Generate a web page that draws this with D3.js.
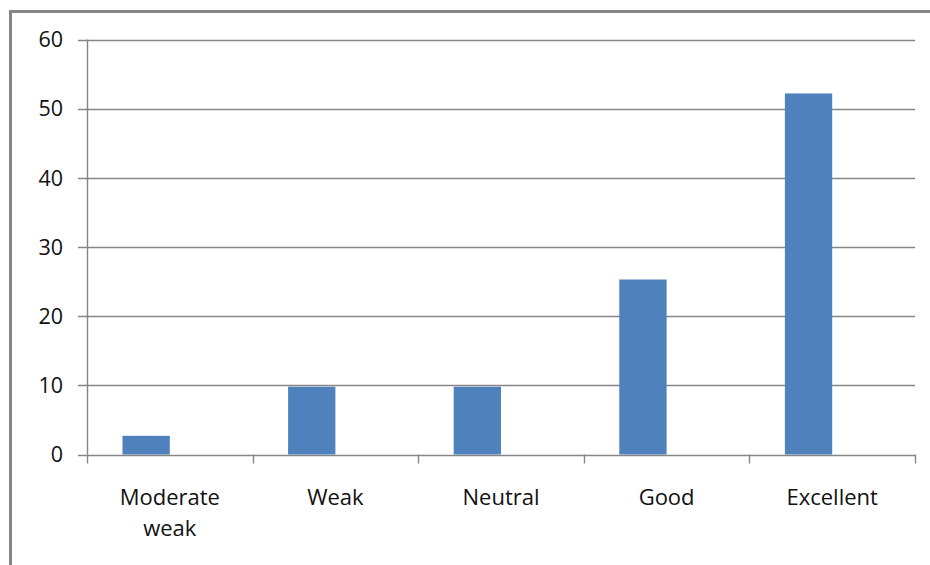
<!DOCTYPE html>
<html>
<head>
<meta charset="utf-8">
<script src="https://cdn.jsdelivr.net/npm/d3@7"></script>
<style>
  html, body { margin: 0; padding: 0; background: #fff; }
  svg { display: block; }
  text { font-family: "Open Sans", "Noto Sans", sans-serif; fill: #111; }
</style>
</head>
<body>
<script>
// Ratings and their counts
const categories = [["Moderate", "weak"], ["Weak"], ["Neutral"], ["Good"], ["Excellent"]];
const values = [2.7, 9.8, 9.8, 25.3, 52.2];
const yTicks = [0, 10, 20, 30, 40, 50, 60];

const W = 930, H = 565;
const margin = { left: 87, right: 15, top: 39.5, bottom: 110.5 };
const gridColor = "#868686";
const barColor = "#4F81BD";

const svg = d3.select("body").append("svg").attr("width", W).attr("height", H);

// outer frame (left and top edges visible)
svg.append("path")
  .attr("d", `M10.5,${H} V11.5 H${W}`)
  .attr("fill", "none").attr("stroke", gridColor).attr("stroke-width", 3);

const x = d3.scaleBand()
  .domain(categories.map((d, i) => i))
  .range([margin.left, W - margin.right]);

const y = d3.scaleLinear()
  .domain([0, 60])
  .range([H - margin.bottom, margin.top]);

// horizontal gridlines with left tick marks
svg.append("g").selectAll("line").data(yTicks).join("line")
  .attr("x1", margin.left - 9).attr("x2", W - margin.right)
  .attr("y1", d => Math.round(y(d)) + 0.5).attr("y2", d => Math.round(y(d)) + 0.5)
  .attr("stroke", gridColor).attr("stroke-width", 1.4);

// vertical axis line
svg.append("line")
  .attr("x1", margin.left + 0.5).attr("x2", margin.left + 0.5)
  .attr("y1", y(60)).attr("y2", y(0))
  .attr("stroke", gridColor).attr("stroke-width", 1.4);

// y tick labels
svg.append("g").selectAll("text").data(yTicks).join("text")
  .attr("x", 63).attr("y", d => y(d))
  .attr("dy", "0.36em")
  .attr("text-anchor", "end")
  .attr("font-size", 21.5)
  .text(d => d);

// bars: first slot of a two-slot cluster, gap width 150%
const slot = x.bandwidth() / 3.5;
svg.append("g").selectAll("rect").data(values).join("rect")
  .attr("x", (d, i) => x(i) + slot * 0.75)
  .attr("width", slot)
  .attr("y", d => y(d))
  .attr("height", d => y(0) - y(d))
  .attr("fill", barColor);

// category tick marks on the baseline
const tickXs = categories.map((d, i) => x(i)).concat([W - margin.right]);
svg.append("g").selectAll("line").data(tickXs).join("line")
  .attr("x1", d => Math.round(d) + 0.5).attr("x2", d => Math.round(d) + 0.5)
  .attr("y1", y(0)).attr("y2", y(0) + 9)
  .attr("stroke", gridColor).attr("stroke-width", 1.4);

// category labels
const lab = svg.append("g").selectAll("text").data(categories).join("text")
  .attr("text-anchor", "middle")
  .attr("font-size", 22)
  .attr("transform", (d, i) => `translate(${x(i) + x.bandwidth() / 2},505)`);
lab.selectAll("tspan").data(d => d).join("tspan")
  .attr("x", 0)
  .attr("y", (d, j) => j * 31)
  .text(d => d);
</script>
</body>
</html>
